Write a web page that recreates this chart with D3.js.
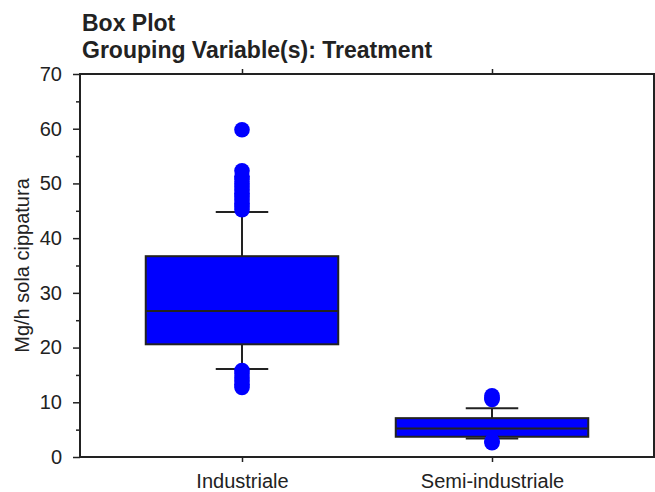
<script src="https://cdn.jsdelivr.net/npm/d3@7"></script>
<style>
body {margin: 0; background: #fff;}
* {font-family: "Liberation Sans", Arial, sans-serif;}
</style>
<div id="chart"></div>
<script>
// values
var categories = ["Industriale", "Semi-industriale"];
var lowWhisker = [16.1, 3.4];
var q1 = [20.6, 3.7];
var median = [26.7, 5.2];
var q3 = [36.7, 7.1];
var highWhisker = [44.8, 8.9];
var outliersIndustriale = [12.7, 13.3, 13.9, 14.5, 15.2, 15.8, 45.2, 45.8, 46.4, 47.0, 47.6, 48.2, 48.8, 49.4, 50.0, 50.7, 51.3, 52.3, 59.8];
var outliersSemi = [2.6, 2.9, 10.5, 10.8, 11.2];
var yTicks = [0, 10, 20, 30, 40, 50, 60, 70];
var yMinorTicks = [5, 15, 25, 35, 45, 55, 65];

var width = 655;
var height = 492;
// note: "top" is taken by window.top, so plot edges get their own names
var plotLeft = 80, plotRight = 654, plotTop = 74, plotBottom = 457;
var ink = "#222";
var blue = "#0000FF";

var svg = d3.select("#chart").append("svg")
	.attr("width", width)
	.attr("height", height);

var x = d3.scalePoint()
	.domain(categories)
	.range([plotLeft, plotRight])
	.padding(0.648);

var y = d3.scaleLinear()
	.domain([0, 70])
	.range([plotBottom, plotTop]);

var step = x.step();
var boxW = step * 0.77;
var capW = step * 0.21;

// titles
svg.append("text")
	.attr("x", 82).attr("y", 31)
	.attr("font-size", 23).attr("font-weight", "bold")
	.attr("fill", ink)
	.text("Box Plot");
svg.append("text")
	.attr("x", 82).attr("y", 58)
	.attr("font-size", 23).attr("font-weight", "bold")
	.attr("fill", ink)
	.text("Grouping Variable(s): Treatment");

// left axis, major + minor ticks
svg.append("g")
	.attr("transform", "translate(" + plotLeft + ",0)")
	.call(d3.axisLeft(y).tickValues(yTicks).tickSize(7).tickSizeOuter(0).tickPadding(11));
svg.append("g")
	.attr("transform", "translate(" + plotLeft + ",0)")
	.call(d3.axisLeft(y).tickValues(yMinorTicks).tickSize(4).tickFormat(""));

// bottom + top axes, category ticks only
svg.append("g")
	.attr("transform", "translate(0," + plotBottom + ")")
	.call(d3.axisBottom(x).tickSize(5).tickSizeOuter(0).tickPadding(12));
svg.append("g")
	.attr("transform", "translate(0," + plotTop + ")")
	.call(d3.axisTop(x).tickSize(5).tickSizeOuter(0).tickFormat(""));

svg.selectAll(".domain").remove();
svg.selectAll(".tick line").attr("stroke", ink).attr("stroke-width", 1.5);
svg.selectAll(".tick text")
	.attr("font-size", 20)
	.attr("fill", ink)
	.style("font-family", "Liberation Sans, Arial, sans-serif");

// frame
svg.append("rect")
	.attr("x", plotLeft).attr("y", plotTop)
	.attr("width", plotRight - plotLeft).attr("height", plotBottom - plotTop)
	.attr("fill", "none")
	.attr("stroke", ink)
	.attr("stroke-width", 2);

// y label
svg.append("text")
	.attr("transform", "translate(29," + ((plotTop + plotBottom) / 2 + 0) + ") rotate(-90)")
	.attr("text-anchor", "middle")
	.attr("font-size", 20)
	.attr("fill", ink)
	.text("Mg/h sola cippatura");

// boxes
categories.forEach(function(cat, i) {
	var cx = x(cat);
	var g = svg.append("g");
	g.append("line")
		.attr("x1", cx).attr("x2", cx)
		.attr("y1", y(lowWhisker[i])).attr("y2", y(highWhisker[i]))
		.attr("stroke", ink).attr("stroke-width", 2);
	g.append("line")
		.attr("x1", cx - capW / 2).attr("x2", cx + capW / 2)
		.attr("y1", y(highWhisker[i])).attr("y2", y(highWhisker[i]))
		.attr("stroke", ink).attr("stroke-width", 2);
	g.append("line")
		.attr("x1", cx - capW / 2).attr("x2", cx + capW / 2)
		.attr("y1", y(lowWhisker[i])).attr("y2", y(lowWhisker[i]))
		.attr("stroke", ink).attr("stroke-width", 2);
	g.append("rect")
		.attr("x", cx - boxW / 2).attr("y", y(q3[i]))
		.attr("width", boxW).attr("height", y(q1[i]) - y(q3[i]))
		.attr("fill", blue)
		.attr("stroke", ink).attr("stroke-width", 2);
	g.append("line")
		.attr("x1", cx - boxW / 2).attr("x2", cx + boxW / 2)
		.attr("y1", y(median[i])).attr("y2", y(median[i]))
		.attr("stroke", ink).attr("stroke-width", 2);
});

// outliers
var outliers = [outliersIndustriale, outliersSemi];
outliers.forEach(function(vals, i) {
	svg.append("g").selectAll("circle")
		.data(vals)
		.enter().append("circle")
		.attr("cx", x(categories[i]))
		.attr("cy", function(d) { return y(d); })
		.attr("r", 7.8)
		.attr("fill", blue);
});
</script>
